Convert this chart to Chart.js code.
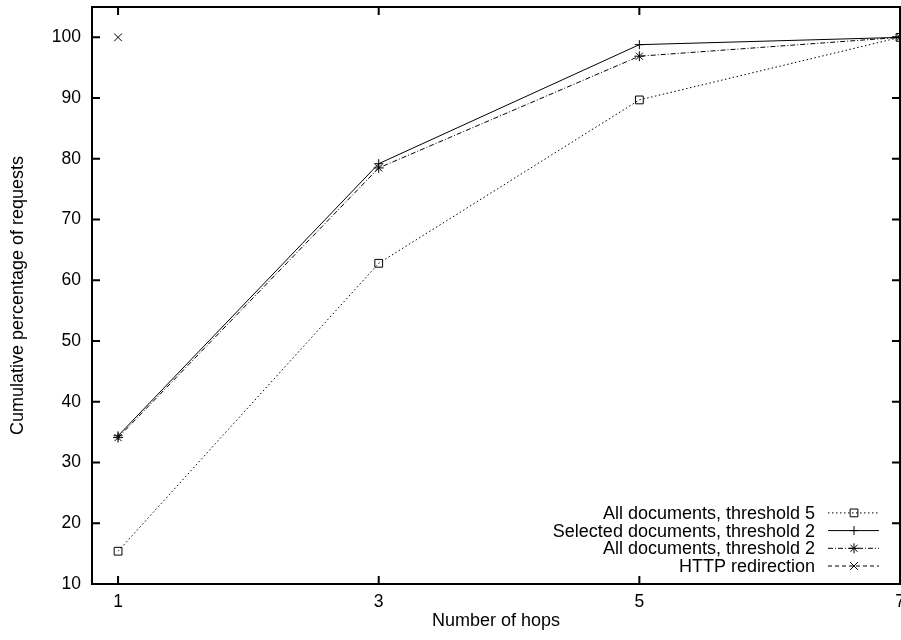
<!DOCTYPE html>
<html>
<head>
<meta charset="utf-8">
<script src="https://cdn.jsdelivr.net/npm/chart.js@4.4.1/dist/chart.umd.min.js"></script>
<style>
  html, body { margin: 0; padding: 0; background: #fff; }
  #wrap { width: 901px; height: 640px; }
</style>
</head>
<body>
<div id="wrap"><canvas id="myChart" width="901" height="640"></canvas></div>
<script>
const hops = [1, 3, 5, 7];
const xTicks = [1, 3, 5, 7];
const yTicks = [10, 20, 30, 40, 50, 60, 70, 80, 90, 100];

const allDocsT5 = [15.4, 62.8, 89.7, 100];
const selDocsT2 = [34.4, 79.2, 98.8, 100];
const allDocsT2 = [34.1, 78.5, 96.9, 100];
const httpRedirect = [100, null, null, null];

const seriesNames = [
    "All documents, threshold 5",
    "Selected documents, threshold 2",
    "All documents, threshold 2",
    "HTTP redirection"
];

const FONT = "'Liberation Sans', Arial, Helvetica, sans-serif";

function toPoints(values) {
    return values.map((v, i) => ({ x: hops[i], y: v }));
}

// no extra room for labels hanging over the plot edges
function noPad(s) {
    s.paddingTop = 0;
    s.paddingBottom = 0;
    s.paddingLeft = 0;
    s.paddingRight = 0;
}

// legend in the lower right corner, gnuplot style: text then sample
const keyPlugin = {
    id: "key",
    afterDraw(chart) {
        const ctx = chart.ctx;
        const area = chart.chartArea;
        const n = chart.data.datasets.length;
        ctx.save();
        chart.data.datasets.forEach((ds, i) => {
            const y = area.bottom - 18 - (n - 1 - i) * 17.7;
            ctx.fillStyle = "#000";
            ctx.font = "18px " + FONT;
            ctx.textAlign = "right";
            ctx.textBaseline = "middle";
            ctx.fillText(ds.label, area.right - 85, y + 1);

            ctx.strokeStyle = "#000";
            ctx.lineWidth = 1;
            ctx.setLineDash(ds.borderDash || []);
            ctx.beginPath();
            ctx.moveTo(area.right - 72, y);
            ctx.lineTo(area.right - 21, y);
            ctx.stroke();
            ctx.setLineDash([]);
            ctx.fillStyle = "rgba(0,0,0,0)";
            Chart.helpers.drawPoint(ctx, {
                pointStyle: ds.pointStyle,
                radius: ds.pointRadius,
                rotation: 0,
                borderWidth: 1
            }, area.right - 46, y);
        });
        ctx.restore();
    }
};

// box around the plot with inward ticks on all four sides
const framePlugin = {
    id: "frame",
    afterDraw(chart) {
        const ctx = chart.ctx;
        const a = chart.chartArea;
        const xs = chart.scales.x;
        const ys = chart.scales.y;
        const len = 8;
        ctx.save();
        ctx.strokeStyle = "#000";
        ctx.lineWidth = 2;
        ctx.beginPath();
        yTicks.forEach(v => {
            const py = ys.getPixelForValue(v);
            ctx.moveTo(a.left, py);
            ctx.lineTo(a.left + len, py);
            ctx.moveTo(a.right, py);
            ctx.lineTo(a.right - len, py);
        });
        xTicks.forEach(v => {
            const px = xs.getPixelForValue(v);
            ctx.moveTo(px, a.bottom);
            ctx.lineTo(px, a.bottom - len);
            ctx.moveTo(px, a.top);
            ctx.lineTo(px, a.top + len);
        });
        ctx.stroke();
        ctx.strokeRect(a.left, a.top, a.right - a.left, a.bottom - a.top);
        ctx.restore();
    }
};

const common = {
    borderColor: "#000",
    pointBorderColor: "#000",
    backgroundColor: "transparent",
    pointBackgroundColor: "transparent",
    borderWidth: 1,
    pointBorderWidth: 1,
    tension: 0,
    fill: false,
    clip: false
};

const ctx = document.getElementById("myChart").getContext("2d");

const chart = new Chart(ctx, {
    type: "line",
    data: {
        datasets: [
            Object.assign({}, common, {
                label: seriesNames[0],
                data: toPoints(allDocsT5),
                borderDash: [1.5, 2.5],
                pointStyle: "rect",
                pointRadius: 5.5
            }),
            Object.assign({}, common, {
                label: seriesNames[1],
                data: toPoints(selDocsT2),
                borderDash: [],
                pointStyle: "cross",
                pointRadius: 4.5
            }),
            Object.assign({}, common, {
                label: seriesNames[2],
                data: toPoints(allDocsT2),
                borderDash: [5, 2, 1, 2],
                pointStyle: "star",
                pointRadius: 5
            }),
            Object.assign({}, common, {
                label: seriesNames[3],
                data: toPoints(httpRedirect),
                borderDash: [4, 3],
                pointStyle: "crossRot",
                pointRadius: 5.5
            })
        ]
    },
    options: {
        responsive: false,
        animation: false,
        layout: { autoPadding: false, padding: { top: 7, right: 1, left: 0, bottom: 0 } },
        plugins: {
            legend: { display: false },
            tooltip: { enabled: false }
        },
        scales: {
            x: {
                type: "linear",
                min: 0.8,
                max: 7,
                afterBuildTicks: s => { s.ticks = xTicks.map(v => ({ value: v })); },
                afterFit: s => { s.height = 56; noPad(s); },
                grid: { display: false, drawTicks: false },
                border: { display: false },
                ticks: {
                    color: "#000",
                    font: { family: FONT, size: 17.5 },
                    padding: 8,
                    maxRotation: 0
                },
                title: {
                    display: true,
                    text: "Number of hops",
                    color: "#000",
                    font: { family: FONT, size: 18 },
                    padding: { top: 0, bottom: 8 }
                }
            },
            y: {
                min: 10,
                max: 105,
                afterBuildTicks: s => { s.ticks = yTicks.map(v => ({ value: v })); },
                afterFit: s => { s.width = 92; noPad(s); },
                grid: { display: false, drawTicks: false },
                border: { display: false },
                ticks: {
                    color: "#000",
                    font: { family: FONT, size: 17.5 },
                    padding: 11
                },
                title: {
                    display: true,
                    text: "Cumulative percentage of requests",
                    color: "#000",
                    font: { family: FONT, size: 18 },
                    padding: { top: 7, bottom: 0 }
                }
            }
        }
    },
    plugins: [framePlugin, keyPlugin]
});
</script>
</body>
</html>
